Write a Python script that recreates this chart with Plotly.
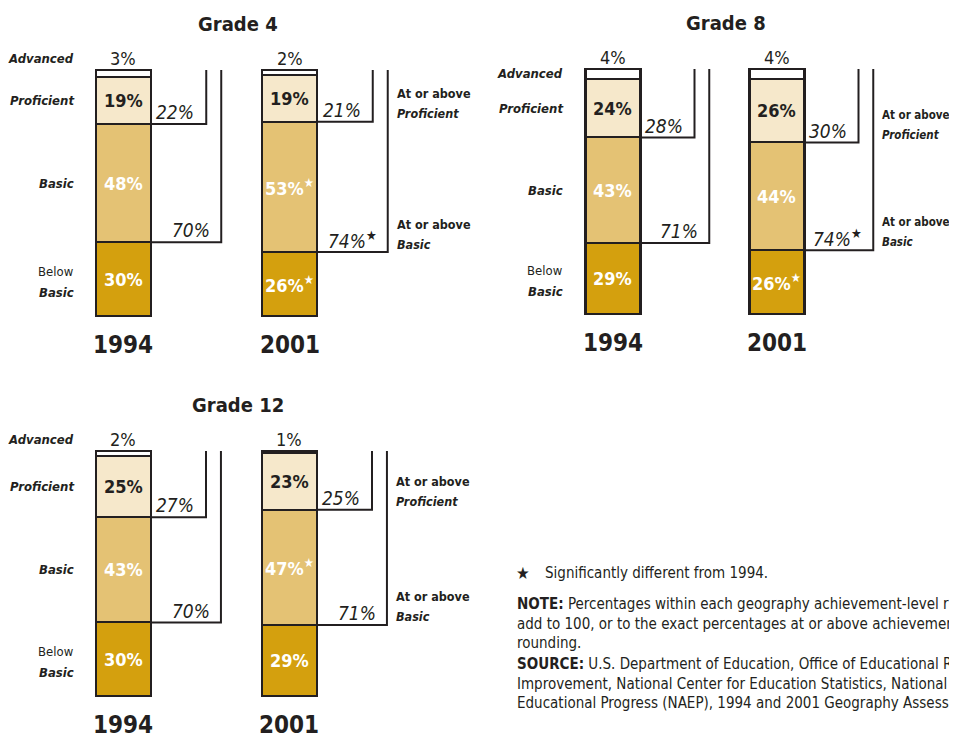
import plotly.graph_objects as go

# ------------------------------------------------------------------
# Data (percentages)
# ------------------------------------------------------------------
years = ["1994", "2001"]

grade4_below = [30, 26]
grade4_basic = [48, 53]
grade4_proficient = [19, 19]
grade4_advanced = [3, 2]
grade4_at_basic = [70, 74]
grade4_at_proficient = [22, 21]
grade4_star_below = ["", "★"]
grade4_star_basic = ["", "★"]
grade4_star_at_basic = ["", "★"]

grade8_below = [29, 26]
grade8_basic = [43, 44]
grade8_proficient = [24, 26]
grade8_advanced = [4, 4]
grade8_at_basic = [71, 74]
grade8_at_proficient = [28, 30]
grade8_star_below = ["", "★"]
grade8_star_basic = ["", ""]
grade8_star_at_basic = ["", "★"]

grade12_below = [30, 29]
grade12_basic = [43, 47]
grade12_proficient = [25, 23]
grade12_advanced = [2, 1]
grade12_at_basic = [70, 71]
grade12_at_proficient = [27, 25]
grade12_star_below = ["", ""]
grade12_star_basic = ["", "★"]
grade12_star_at_basic = ["", ""]

note_star = "Significantly different from 1994."
note_text = ("<b>NOTE:</b> Percentages within each geography achievement-level range may not<br>"
             "add to 100, or to the exact percentages at or above achievement levels, due to<br>"
             "rounding.")
source_text = ("<b>SOURCE:</b> U.S. Department of Education, Office of Educational Research and<br>"
               "Improvement, National Center for Education Statistics, National Assessment of<br>"
               "Educational Progress (NAEP), 1994 and 2001 Geography Assessments.")

# ------------------------------------------------------------------
# Styling / layout
# ------------------------------------------------------------------
PAD = 8                      # the page body keeps its default 8px margin
W, H = 957 - PAD, 738 - PAD  # figure size, so it ends at the window edge
FONT = "Liberation Sans Narrow, DejaVu Sans Condensed, Arial Narrow, sans-serif"
INK = "#231F20"
C_BELOW = "#D4A00E"
C_BASIC = "#E4C274"
C_PROF = "#F6E8CB"
C_ADV = "#FFFFFF"

X_RANGE = [-0.5, 1.72]
Y_RANGE = [-4, 104]
PROF_ARM = 0.50   # bracket offsets from bar centre (in x units)
BASIC_ARM = 0.59
LBL = 13          # level-label font size

# panel geometry in window pixels: centre of first bar, spacing, bar bottom / top
panels = [
    dict(title="Grade 4", c0=123, dx=166.5, bot=316, top=70, adv_top=True, rsize=12.5,
         below=grade4_below, basic=grade4_basic, prof=grade4_proficient, adv=grade4_advanced,
         at_basic=grade4_at_basic, at_prof=grade4_at_proficient,
         s_below=grade4_star_below, s_basic=grade4_star_basic, s_at_basic=grade4_star_at_basic),
    dict(title="Grade 8", c0=612.5, dx=164, bot=314, top=69, adv_top=False, rsize=11.5,
         below=grade8_below, basic=grade8_basic, prof=grade8_proficient, adv=grade8_advanced,
         at_basic=grade8_at_basic, at_prof=grade8_at_proficient,
         s_below=grade8_star_below, s_basic=grade8_star_basic, s_at_basic=grade8_star_at_basic),
    dict(title="Grade 12", c0=123, dx=166, bot=696, top=451, adv_top=True, rsize=12.5,
         below=grade12_below, basic=grade12_basic, prof=grade12_proficient, adv=grade12_advanced,
         at_basic=grade12_at_basic, at_prof=grade12_at_proficient,
         s_below=grade12_star_below, s_basic=grade12_star_basic, s_at_basic=grade12_star_at_basic),
]

fig = go.Figure()
annotations = []
layout_axes = {}
xpos = list(range(len(years)))


def ann(text, x, y, xref, yref, size, color=INK, weight="normal", style="normal", **kw):
    kw.setdefault("yanchor", "middle")
    kw.setdefault("xanchor", "center")
    annotations.append(dict(text=text, x=x, y=y, xref=xref, yref=yref, showarrow=False,
                            font=dict(family=FONT, size=size, color=color, weight=weight, style=style),
                            **kw))


def star(s):
    return f"<sup>{s}</sup>" if s else ""


def px_x(v):
    return (v - PAD) / W


def px_y(v):
    return 1 - (v - PAD) / H


for i, p in enumerate(panels, start=1):
    sfx = "" if i == 1 else str(i)
    xa, ya = "x" + sfx, "y" + sfx
    width = 55 / p["dx"]
    scale = (p["bot"] - p["top"]) / 100.0

    x_dom = [px_x(p["c0"] + X_RANGE[0] * p["dx"]), px_x(p["c0"] + X_RANGE[1] * p["dx"])]
    y_dom = [px_y(p["bot"] - Y_RANGE[0] * scale), px_y(p["bot"] - Y_RANGE[1] * scale)]
    layout_axes["xaxis" + sfx] = dict(domain=x_dom, range=X_RANGE, visible=False, fixedrange=True)
    layout_axes["yaxis" + sfx] = dict(domain=y_dom, range=Y_RANGE, visible=False, fixedrange=True)

    # stacked bars
    for vals, col in [(p["below"], C_BELOW), (p["basic"], C_BASIC), (p["prof"], C_PROF), (p["adv"], C_ADV)]:
        fig.add_trace(go.Bar(x=xpos, y=vals, width=width, xaxis=xa, yaxis=ya,
                             marker=dict(color=col, line=dict(color=INK, width=2.2)),
                             hoverinfo="skip", showlegend=False))

    for j, yr in enumerate(years):
        b, ba, pr, ad = p["below"][j], p["basic"][j], p["prof"][j], p["adv"][j]
        lvl_basic = b
        lvl_prof = b + ba
        top = b + ba + pr + ad
        right = xpos[j] + width / 2

        # brackets
        fig.add_trace(go.Scatter(x=[right, xpos[j] + PROF_ARM, xpos[j] + PROF_ARM],
                                 y=[lvl_prof, lvl_prof, top], mode="lines", xaxis=xa, yaxis=ya,
                                 line=dict(color=INK, width=2), hoverinfo="skip", showlegend=False))
        fig.add_trace(go.Scatter(x=[right, xpos[j] + BASIC_ARM, xpos[j] + BASIC_ARM],
                                 y=[lvl_basic, lvl_basic, top], mode="lines", xaxis=xa, yaxis=ya,
                                 line=dict(color=INK, width=2), hoverinfo="skip", showlegend=False))

        # segment labels
        ann(f"{b}%{star(p['s_below'][j])}", xpos[j], b / 2, xa, ya, 18, "white", weight="bold")
        ann(f"{ba}%{star(p['s_basic'][j])}", xpos[j], b + ba / 2, xa, ya, 18, "white", weight="bold")
        ann(f"{pr}%", xpos[j], lvl_prof + pr / 2, xa, ya, 18, weight="bold")
        ann(f"{ad}%", xpos[j], top, xa, ya, 18, yshift=12)

        # bracket values
        ann(f"{p['at_prof'][j]}%", xpos[j] + PROF_ARM, lvl_prof, xa, ya, 19, style="italic",
            xanchor="right", xshift=-10, yshift=12)
        ann(f"{p['at_basic'][j]}%{star(p['s_at_basic'][j])}", xpos[j] + BASIC_ARM, lvl_basic,
            xa, ya, 19, style="italic", xanchor="right", xshift=-9, yshift=12)

        # year
        ann(yr, xpos[j], 0, xa, ya, 24, weight="bold", yshift=-29)

    # right-hand labels (next to latest year), one line at a time for the wide leading
    last = len(years) - 1
    rx = xpos[last] + BASIC_ARM
    for lvl, name in [(p["below"][last] + p["basic"][last], "Proficient"), (p["below"][last], "Basic")]:
        ann("At or above", rx, lvl, xa, ya, p["rsize"], weight="bold",
            xanchor="left", xshift=7, yshift=28)
        ann(name, rx, lvl, xa, ya, p["rsize"], weight="bold", style="italic",
            xanchor="left", xshift=7, yshift=8)

    # left-hand level labels (beside first year)
    left = xpos[0] - width / 2
    b0, ba0, pr0, ad0 = p["below"][0], p["basic"][0], p["prof"][0], p["adv"][0]
    bi = dict(weight="bold", style="italic", xanchor="right", xshift=-20)
    if p["adv_top"]:
        ann("Advanced", left, 100, xa, ya, LBL, yshift=12, **bi)
    else:
        ann("Advanced", left, b0 + ba0 + pr0 + ad0 / 2, xa, ya, LBL, **bi)
    ann("Proficient", left, b0 + ba0 + pr0 / 2, xa, ya, LBL, **bi)
    ann("Basic", left, b0 + ba0 / 2, xa, ya, LBL, **bi)
    ann("Below", left, b0 / 2, xa, ya, LBL, xanchor="right", xshift=-20, yshift=8)
    ann("Basic", left, b0 / 2, xa, ya, LBL, yshift=-13, **bi)

    # panel title
    ann(p["title"], 0.69, 100, xa, ya, 20, weight="bold", yshift=46)

# footnotes
ann("★", px_x(523), px_y(573), "paper", "paper", 17)
ann(note_star, px_x(543), px_y(573), "paper", "paper", 15, xanchor="left")
ann(note_text, px_x(515), px_y(593), "paper", "paper", 15, xanchor="left", yanchor="top", align="left")
ann(source_text, px_x(515), px_y(653), "paper", "paper", 15, xanchor="left", yanchor="top", align="left")

fig.update_layout(
    width=W, height=H, margin=dict(l=0, r=0, t=0, b=0),
    paper_bgcolor="white", plot_bgcolor="rgba(0,0,0,0)",
    barmode="stack", bargap=0, showlegend=False,
    annotations=annotations, **layout_axes,
)

fig.write_html("out.html")
